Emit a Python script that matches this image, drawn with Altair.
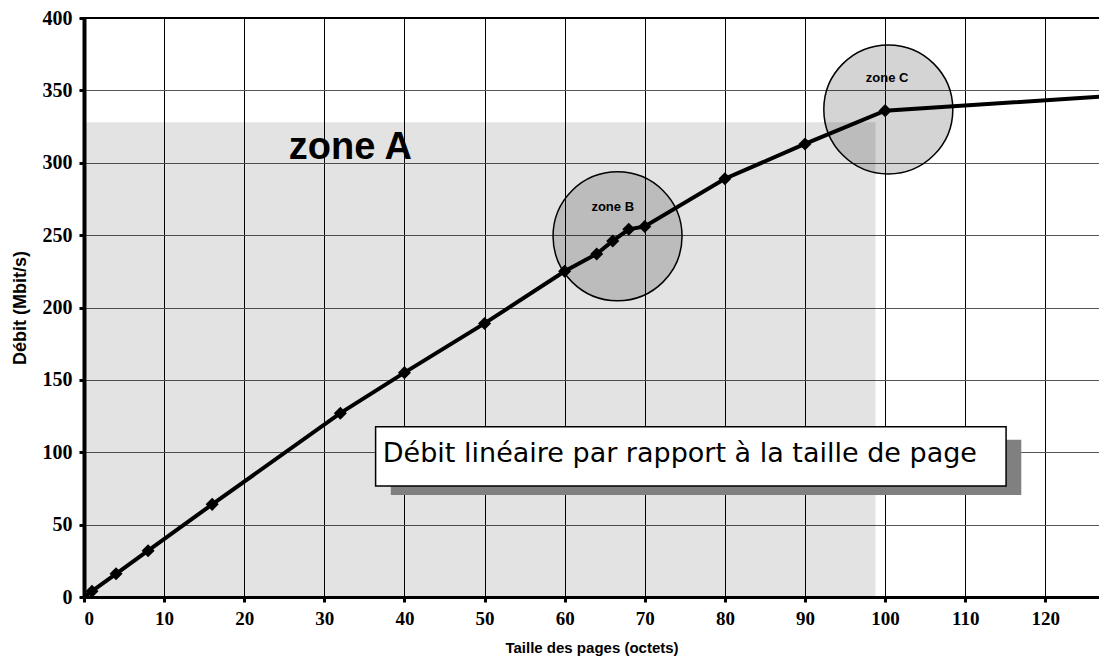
import altair as alt
import pandas as pd

# ---- data ----
taille = [0, 1, 4, 8, 16, 32, 40, 50, 60, 64, 66, 68, 70, 80, 90, 100, 128]
debit = [0, 4, 16, 32, 64, 127, 155, 189, 225, 237, 246, 254, 256, 289, 313, 336, 346]

x_ticks = [0, 10, 20, 30, 40, 50, 60, 70, 80, 90, 100, 110, 120]
y_ticks = [0, 50, 100, 150, 200, 250, 300, 350, 400]

# annotation geometry (data coordinates)
zoneA_x = [0, 98.8]
zoneA_y = [0, 328]
zone_labels = ["zone B", "zone C"]
zone_cx = [66.6, 100.4]
zone_cy = [249.2, 336.8]
zone_lx = [66.0, 100.25]
zone_ly = [269.4, 358.3]
box_x = [36.4, 115.1]
box_y = [76.6, 117.6]
shadow_x = [38.3, 117.0]
shadow_y = [70.4, 108.7]
box_text = "Débit linéaire par rapport à la taille de page"
box_text_pos = [37.3, 99.1]
zoneA_text_pos = [33.25, 310.4]

X_MAX = 126.7

df = pd.DataFrame({"taille": taille, "debit": debit})

xs = alt.Scale(domain=[0, X_MAX], nice=False, zero=False)
ys = alt.Scale(domain=[0, 400], nice=False)

x_axis = alt.Axis(values=x_ticks, title="Taille des pages (octets)")
y_axis = alt.Axis(values=y_ticks, title="Débit (Mbit/s)")

zoneA_df = pd.DataFrame({"x": [zoneA_x[0]], "x2": [zoneA_x[1]],
                         "y": [zoneA_y[0]], "y2": [zoneA_y[1]]})
zoneA = alt.Chart(zoneA_df).mark_rect(color="black", opacity=0.11).encode(
    x=alt.X("x:Q", scale=xs, axis=x_axis), x2="x2",
    y=alt.Y("y:Q", scale=ys, axis=y_axis), y2="y2"
)

top_rule = alt.Chart(pd.DataFrame({"y": [400]})).mark_rule(color="black", strokeWidth=2).encode(
    y=alt.Y("y:Q", scale=ys)
)

zones_df = pd.DataFrame({"label": zone_labels, "cx": zone_cx, "cy": zone_cy,
                         "lx": zone_lx, "ly": zone_ly})
circles = alt.Chart(zones_df).mark_point(
    shape="circle", size=16641, filled=True, fill="black", fillOpacity=0.17,
    stroke="black", strokeWidth=1.5, strokeOpacity=1, opacity=1
).encode(x=alt.X("cx:Q", scale=xs), y=alt.Y("cy:Q", scale=ys))

zone_text = alt.Chart(zones_df).mark_text(
    font="Liberation Sans", fontWeight="bold", fontSize=13, color="black"
).encode(x=alt.X("lx:Q", scale=xs), y=alt.Y("ly:Q", scale=ys), text="label:N")

line = alt.Chart(df).mark_line(color="black", strokeWidth=4, clip=True).encode(
    x=alt.X("taille:Q", scale=xs), y=alt.Y("debit:Q", scale=ys)
)
points = alt.Chart(df).mark_point(
    shape="diamond", filled=True, color="black", size=170, opacity=1, clip=True
).encode(x=alt.X("taille:Q", scale=xs), y=alt.Y("debit:Q", scale=ys))

shadow_df = pd.DataFrame({"x": [shadow_x[0]], "x2": [shadow_x[1]],
                          "y": [shadow_y[0]], "y2": [shadow_y[1]]})
shadow = alt.Chart(shadow_df).mark_rect(color="#808080").encode(
    x=alt.X("x:Q", scale=xs), x2="x2", y=alt.Y("y:Q", scale=ys), y2="y2"
)
box_df = pd.DataFrame({"x": [box_x[0]], "x2": [box_x[1]],
                       "y": [box_y[0]], "y2": [box_y[1]]})
box = alt.Chart(box_df).mark_rect(fill="white", stroke="black", strokeWidth=1.5).encode(
    x=alt.X("x:Q", scale=xs), x2="x2", y=alt.Y("y:Q", scale=ys), y2="y2"
)
box_label = alt.Chart(pd.DataFrame({"x": [box_text_pos[0]], "y": [box_text_pos[1]], "t": [box_text]})).mark_text(
    font="DejaVu Sans", fontSize=27, color="black", align="left", baseline="middle"
).encode(x=alt.X("x:Q", scale=xs), y=alt.Y("y:Q", scale=ys), text="t:N")

zoneA_label = alt.Chart(pd.DataFrame({"x": [zoneA_text_pos[0]], "y": [zoneA_text_pos[1]], "t": ["zone A"]})).mark_text(
    font="Liberation Sans", fontWeight="bold", fontSize=38, color="black", baseline="middle"
).encode(x=alt.X("x:Q", scale=xs), y=alt.Y("y:Q", scale=ys), text="t:N")

chart = alt.layer(
    zoneA, top_rule, circles, line, points, zone_text, zoneA_label, shadow, box, box_label
).properties(
    width=1015, height=579,
    autosize=alt.AutoSizeParams(type="none"),
    padding={"left": 76, "top": 10, "right": 0, "bottom": 64},
).configure_view(stroke=None).configure(background="white").configure_axisX(
    grid=True, gridColor="black", gridWidth=1, domainColor="black", domainWidth=3,
    tickColor="black", tickWidth=3, tickSize=5, labelPadding=7,
    labelFont="Liberation Serif", labelFontWeight="bold", labelFontSize=19,
    labelColor="black", titleFont="Liberation Sans", titleFontWeight="bold",
    titleFontSize=15, titleColor="black", titlePadding=12,
).configure_axisY(
    grid=True, gridColor="#555555", gridWidth=1.2, domainColor="black", domainWidth=4,
    tickColor="black", tickWidth=3, tickSize=5, labelPadding=7,
    labelFont="Liberation Serif", labelFontWeight="bold", labelFontSize=20,
    labelColor="black", titleFont="Liberation Sans", titleFontWeight="bold",
    titleFontSize=18, titleColor="black", titlePadding=13,
)

chart.save("out.html", embed_options={"renderer": "svg", "actions": False})
